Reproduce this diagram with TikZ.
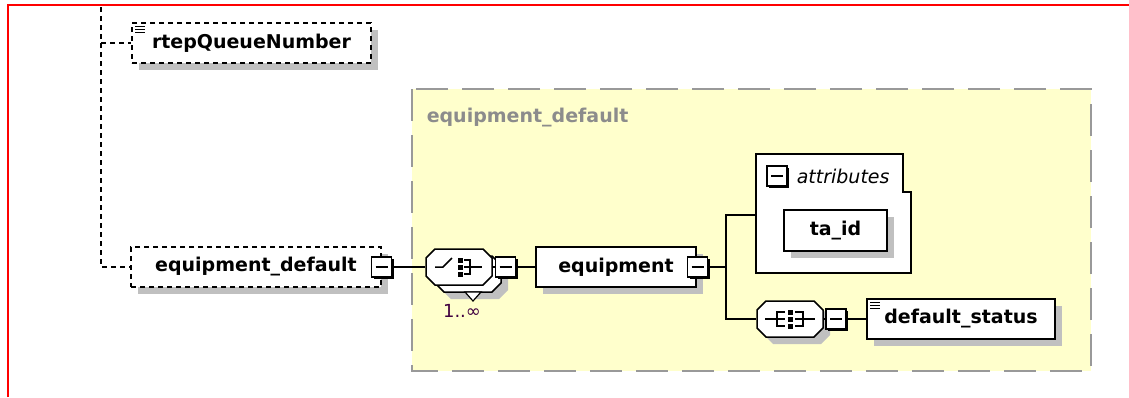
\documentclass[tikz,border=0pt]{standalone}
\usepackage{fontspec}
\setmainfont{DejaVu Sans}
\usetikzlibrary{shadows}
\definecolor{regionfill}{RGB}{255,255,204}
\definecolor{regionline}{RGB}{153,153,153}
\definecolor{regionlabel}{RGB}{140,140,140}
\definecolor{shadowgray}{RGB}{192,192,192}
\definecolor{multcolor}{RGB}{64,0,64}

\begin{document}
\begin{tikzpicture}[x=1pt, y=-1pt, line width=1.5pt,
    labelfont/.style={font=\fontsize{19}{23}\selectfont\bfseries},
    elem/.style={draw, fill=white, minimum height=40pt, inner sep=0pt, labelfont,
        drop shadow={shadow xshift=7pt, shadow yshift=-7pt, fill=shadowgray, opacity=1}},
    optelem/.style={elem, dash pattern=on 5pt off 4pt},
    minusbox/.style={draw, fill=white, line width=1.5pt, minimum size=20pt, inner sep=0pt,
        drop shadow={shadow xshift=2pt, shadow yshift=-2pt, fill=black, opacity=1},
        path picture={\draw[line width=1.5pt] ([xshift=4pt]path picture bounding box.west)
            -- ([xshift=-4pt]path picture bounding box.east);}},
    compnode/.style={rectangle, minimum width=66pt, minimum height=36pt, inner sep=0pt},
    compbody/.pic={\draw[fill=white] (-24,-18) -- (24,-18) -- (33,-9) -- (33,9) -- (24,18)
        -- (-24,18) -- (-33,9) -- (-33,-9) -- cycle;},
    compshade/.pic={\fill[shadowgray] (-17,-11) -- (31,-11) -- (40,-2) -- (40,16) -- (31,25)
        -- (-17,25) -- (-26,16) -- (-26,-2) -- cycle;},
    conn/.style={line width=1.8pt},
    optconn/.style={line width=1.5pt, dash pattern=on 5pt off 4pt}]

    \useasboundingbox (0,0) rectangle (1129,397);

    % frame
    \draw[red, line width=2pt] (8,397) -- (8,5) -- (1129,5);

    % complex type region
    \draw[regionline, fill=regionfill, line width=2pt, dash pattern=on 32pt off 14pt]
        (412,89) rectangle (1091,371);
    \node[labelfont, text=regionlabel, anchor=west, inner sep=0pt] (regionname) at (426,118) {equipment\_default};

    % optional elements on the left
    \node[optelem, minimum width=239pt] (rtep) at (251.5,43) {rtepQueueNumber};
    \foreach \d in {4,7,10}
        \draw[line width=1.3pt] ([shift={(4,\d)}]rtep.north west) -- ++(10,0);
    \node[optelem, minimum width=250pt] (eqdef) at (256,267) {equipment\_default};
    \node[minusbox] (eqdefminus) at (381.5,267) {};

    \coordinate (spine) at (101,7);
    \draw[optconn] (spine) |- (eqdef.west);
    \draw[optconn] (spine |- rtep.west) -- (rtep.west);

    % choice compositor, 1..oo
    \node[compnode] (choice) at (459,267) {};
    \pic at ([shift={(9,7)}]choice) {compshade};
    \pic at ([shift={(9,7)}]choice) {compbody};
    \draw[fill=white, line width=1.2pt] ([shift={(6,25)}]choice.center) -- ++(16,0) -- ++(-8,9) -- cycle;
    \pic at (choice) {compbody};
    \begin{scope}[shift={(choice)}]
        \draw (-24,0) -- (-16,0) -- (-7,-9);
        \foreach \s in {-7,0,7}
            \fill (-1.5,\s-2.5) rectangle (3.5,\s+2.5);
        \draw (5,-7) -- (11,-7) -- (11,7) -- (5,7);
        \draw (5,0) -- (23,0);
    \end{scope}
    \node[font=\fontsize{18}{21}\selectfont, text=multcolor] (mult) at (462,311) {1..∞};
    \node[minusbox] (choiceminus) at (505.5,267) {};

    \node[elem, minimum width=160pt] (equip) at (616,267) {equipment};
    \node[minusbox] (equipminus) at (697.5,267) {};

    \draw[conn] (eqdefminus.east) -- (choice.west);
    \draw[conn] (choice.east) -- (choiceminus.west);
    \draw[conn] (choiceminus.east) -- (equip.west);

    % attributes
    \draw[fill=white] (756,154) -- (903,154) -- (903,192) -- (911,192) -- (911,273)
        -- (756,273) -- cycle;
    \node[minusbox] (attrminus) at (777,176) {};
    \node[font=\fontsize{19}{23}\selectfont\itshape, anchor=west, inner sep=0pt] (attrname) at (796,176) {attributes};
    \node[elem, minimum width=103pt, minimum height=41pt] (taid) at (835.5,230.5) {ta\_id};

    % sequence compositor
    \node[compnode] (seq) at (790,319) {};
    \pic at (seq) {compshade};
    \pic at (seq) {compbody};
    \begin{scope}[shift={(seq)}]
        \draw (-25,0) -- (-13,0);
        \draw (-5,-7) -- (-13,-7) -- (-13,7) -- (-5,7);
        \draw (-13,0) -- (-5,0);
        \foreach \s in {-7,0,7}
            \fill (-2.5,\s-2.5) rectangle (2.5,\s+2.5);
        \draw (5,-7) -- (13,-7) -- (13,7) -- (5,7);
        \draw (5,0) -- (25,0);
    \end{scope}
    \node[minusbox] (seqminus) at (836,319) {};
    \node[elem, minimum width=188pt] (status) at (961,319) {default\_status};
    \foreach \d in {4,7,10}
        \draw[line width=1.3pt] ([shift={(4,\d)}]status.north west) -- ++(10,0);

    \coordinate (trunk) at (726,267);
    \coordinate (attrin) at (756,215);
    \draw[conn] (equipminus.east) -- (trunk);
    \draw[conn] (attrin) -| (trunk) |- (seq.west);
    \draw[conn] (seq.east) -- (seqminus.west);
    \draw[conn] (seqminus.east) -- (status.west);
\end{tikzpicture}
\end{document}
